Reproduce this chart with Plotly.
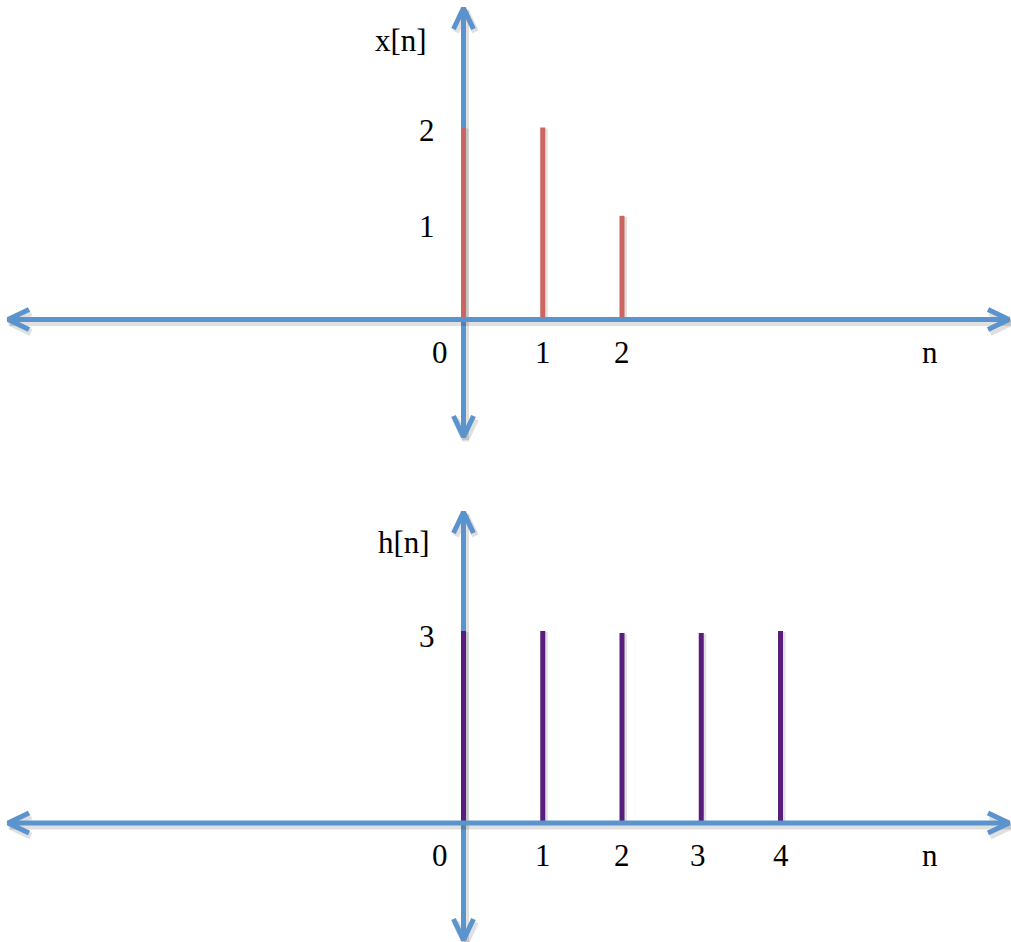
import plotly.graph_objects as go
from plotly.subplots import make_subplots

# signal values
n_x = [0, 1, 2]
x_vals = [2, 2, 1.08]

n_h = [0, 1, 2, 3, 4]
h_vals = [3, 3, 2.97, 2.97, 3]

x_ticks_top = ["0", "1", "2"]
x_ticks_bot = ["0", "1", "2", "3", "4"]
y_ticks_top = [1, 2]
y_ticks_bot = [3]

BLUE = "#5b93cd"
RED = "#cb6560"
PURPLE = "#591d7d"
SHADOW = "rgba(0,0,0,0.12)"
FONT = dict(family="Liberation Serif, Times New Roman, serif", size=31, color="black")

W, H = 1011, 942
px_per_n = 79.25
x0_px = 463.5
xr = [-x0_px / px_per_n, (W - x0_px) / px_per_n]

# baseline pixel, px per unit, panel top/bottom pixel, vertical axis ends
panels = {
    1: dict(base=319.5, scale=96.0, top=0, bot=471, vtop=8, vbot=437),
    2: dict(base=823.0, scale=64.0, top=471, bot=942, vtop=512, vbot=940),
}

fig = make_subplots(rows=2, cols=1, vertical_spacing=0)

def yv(p, py):
    return (p["base"] - py) / p["scale"]

def xv(px):
    return (px - x0_px) / px_per_n

def line(row, xs, ys, color, width):
    fig.add_trace(go.Scatter(x=xs, y=ys, mode="lines", hoverinfo="skip",
                             line=dict(color=color, width=width)), row=row, col=1)

for row, p in panels.items():
    fig.update_yaxes(range=[yv(p, p["bot"]), yv(p, p["top"])], visible=False, row=row, col=1)
    fig.update_xaxes(range=xr, visible=False, row=row, col=1)

    dxv = 10 / px_per_n
    dyv = 21 / p["scale"]
    sx = 2 / px_per_n
    sy = 3 / p["scale"]
    yt, yb = yv(p, p["vtop"]), yv(p, p["vbot"])

    # vertical axis with arrows (under the stems)
    for c, ox, oy, w in [(SHADOW, sx, -sy, 7), (BLUE, 0, 0, 5)]:
        line(row, [ox, ox], [yb + oy, yt + oy], c, w)
        line(row, [-dxv + ox, ox, dxv + ox], [yt - dyv + oy, yt + oy, yt - dyv + oy], c, w)
        line(row, [-dxv + ox, ox, dxv + ox], [yb + dyv + oy, yb + oy, yb + dyv + oy], c, w)

ns = {1: n_x, 2: n_h}
vals = {1: x_vals, 2: h_vals}
cols = {1: RED, 2: PURPLE}
for row in (1, 2):
    p = panels[row]
    sx = 2 / px_per_n
    for n, v in zip(ns[row], vals[row]):
        line(row, [n + sx, n + sx], [0, v - 1 / p["scale"]], SHADOW, 6)
        line(row, [n, n], [0, v], cols[row], 5)

# horizontal axis on top
for row, p in panels.items():
    dxa = 21 / px_per_n
    dya = 10 / p["scale"]
    sx = 2 / px_per_n
    sy = 3 / p["scale"]
    xl, xrr = xv(8), xv(1009)
    for c, ox, oy, w in [(SHADOW, sx, -sy, 7), (BLUE, 0, 0, 5)]:
        line(row, [xl + ox, xrr + ox], [oy, oy], c, w)
        line(row, [xl + dxa + ox, xl + ox, xl + dxa + ox], [dya + oy, oy, -dya + oy], c, w)
        line(row, [xrr - dxa + ox, xrr + ox, xrr - dxa + ox], [dya + oy, oy, -dya + oy], c, w)

def label(row, text, x_px, y_px):
    p = panels[row]
    ax = "x" if row == 1 else "x2"
    ay = "y" if row == 1 else "y2"
    fig.add_annotation(x=xv(x_px), y=yv(p, y_px), xref=ax, yref=ay, text=text,
                       showarrow=False, font=FONT, xanchor="center", yanchor="middle")

# axis names
label(1, "x[n]", 401, 40)
label(2, "h[n]", 404, 542)
label(1, "n", 930, 352)
label(2, "n", 930, 855)

# tick labels along n
for t in x_ticks_top:
    xx = xv(440) if t == "0" else int(t)
    fig.add_annotation(x=xx, y=yv(panels[1], 352), xref="x", yref="y",
                       text=t, showarrow=False, font=FONT)
tick_px_bot = {"0": 440, "3": 698}
for t in x_ticks_bot:
    xx = xv(tick_px_bot[t]) if t in tick_px_bot else int(t)
    fig.add_annotation(x=xx, y=yv(panels[2], 855), xref="x2", yref="y2",
                       text=t, showarrow=False, font=FONT)

# tick labels on value axis
for v in y_ticks_top:
    fig.add_annotation(x=xv(427), y=v - 0.035, xref="x", yref="y", text=str(v),
                       showarrow=False, font=FONT)
for v in y_ticks_bot:
    fig.add_annotation(x=xv(427), y=v - 0.09, xref="x2", yref="y2", text=str(v),
                       showarrow=False, font=FONT)

fig.update_layout(width=W, height=H, margin=dict(l=0, r=0, t=0, b=0),
                  showlegend=False, plot_bgcolor="white", paper_bgcolor="white")

fig.write_html("out.html", config={"displayModeBar": False},
               post_script="document.body.style.margin='0';")
